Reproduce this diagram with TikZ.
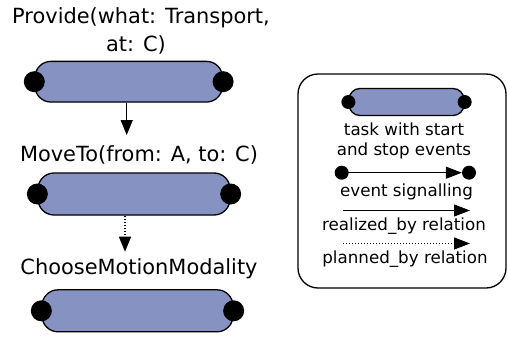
\documentclass[tikz,border=0pt]{standalone}
\usepackage{fontspec}
\setmainfont{DejaVu Sans}
\usetikzlibrary{arrows.meta}
\definecolor{taskblue}{RGB}{134,147,194}
\begin{document}
\begin{tikzpicture}[x=1pt,y=-1pt,
  pill/.style={draw=black, line width=1.3pt, fill=taskblue, rounded corners=16pt, inner sep=0pt},
  smallpill/.style={pill, rounded corners=11pt},
  evt/.style={circle, fill=black, inner sep=0pt, minimum size=21pt},
  smallevt/.style={evt, minimum size=14pt},
  lbl/.style={inner sep=0pt, anchor=base, font=\fontsize{20.9}{25}\selectfont},
  leglbl/.style={inner sep=0pt, anchor=base, font=\fontsize{16.7}{20}\selectfont},
  arr/.style={line width=1.3pt, -{Triangle[length=15pt,width=12pt]}},
  plan/.style={arr, dash pattern=on 1.2pt off 1.8pt},
  legarr/.style={line width=1.1pt, -{Triangle[length=16pt,width=12pt]}},
  legplan/.style={legarr, dash pattern=on 1pt off 2pt}
]
\useasboundingbox (0,0) rectangle (508,337);

% main column
\node[lbl] (p1) at (141,24) {Provide(what: Transport,};
\node[lbl] (p2) at (136,51.7) {at: C)};
\node[pill, minimum width=187.5pt, minimum height=40.7pt] (t1) at (128.7,81.7) {};
\node[evt] (t1s) at (t1.west) {};
\node[evt] (t1e) at (t1.east) {};

\node[lbl] (mv) at (139,161.7) {MoveTo(from: A, to: C)};
\node[pill, minimum width=192pt, minimum height=42pt] (t2) at (134,194) {};
\node[evt] (t2s) at (t2.west) {};
\node[evt] (t2e) at (t2.east) {};

\node[lbl] (cm) at (139,274.5) {ChooseMotionModality};
\node[pill, minimum width=191pt, minimum height=42pt] (t3) at (137.5,310.8) {};
\node[evt] (t3s) at (t3.west) {};
\node[evt] (t3e) at (t3.east) {};

\coordinate (a1e) at (126.7,135);
\coordinate (a2e) at (125,251.7);
\draw[arr] (t1.south -| a1e) -- (a1e);
\draw[plan] (t2.south -| a2e) -- (a2e);

% legend
\node[draw=black, line width=1.3pt, rounded corners=20pt, minimum width=208pt, minimum height=214pt, inner sep=0pt] (leg) at (402,181) {};
\node[smallpill, minimum width=115pt, minimum height=27pt] (lt) at (406.5,102) {};
\node[smallevt] (lts) at (lt.west) {};
\node[smallevt] (lte) at (lt.east) {};
\node[leglbl] (l1) at (404,135) {task with start};
\node[leglbl] (l2) at (404,155) {and stop events};

\node[smallevt] (e1) at (341.7,172.7) {};
\node[smallevt] (e2) at (469,172.7) {};
\draw[legarr] (e1.center) -- (e2);
\node[leglbl] (l3) at (406.5,196.7) {event signalling};

\coordinate (r1) at (343,210.5);
\coordinate (r2) at (470,210.5);
\draw[legarr] (r1) -- (r2);
\node[leglbl] (l4) at (404,230.7) {realized\_by relation};

\coordinate (q1) at (343,243.5);
\coordinate (q2) at (470,243.5);
\draw[legplan] (q1) -- (q2);
\node[leglbl] (l5) at (405,263.3) {planned\_by relation};
\end{tikzpicture}
\end{document}
